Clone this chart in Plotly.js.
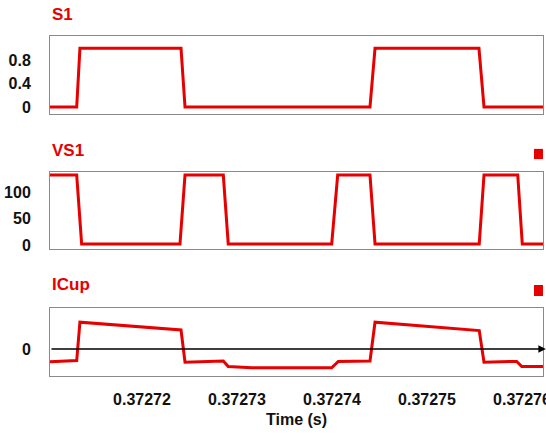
<!DOCTYPE html>
<html>
<head>
<meta charset="utf-8">
<script src="https://cdn.plot.ly/plotly-3.0.1.min.js"></script>
<style>html,body{margin:0;padding:0;background:#fff;overflow:hidden;}#chart{width:546px;height:437px;}</style>
</head>
<body>
<div id="chart"></div>
<script>
// time in microseconds after 0.3727 s
var s1Time = [10.32, 13.13, 13.47, 24.11, 24.53, 44.0, 44.53, 55.47, 56.0, 62.21];
var s1Vals = [0, 0, 1, 1, 0, 0, 1, 1, 0, 0];

var vs1Time = [10.32, 13.13, 13.65, 24.0, 24.53, 28.56, 29.08, 39.97, 40.6, 44.0, 44.53, 55.5, 56.0, 59.55, 60.03, 62.21];
var vs1Vals = [132, 132, 2, 2, 132, 132, 2, 2, 132, 132, 2, 2, 132, 132, 2, 2];

var icupTime = [10.32, 13.13, 13.47, 24.11, 24.53, 28.56, 29.08, 31.55, 39.97, 40.66, 44.0, 44.53, 55.5, 56.0, 59.44, 59.97, 62.21];
var icupVals = [-3.2, -2.9, 6.7, 4.75, -3.3, -3.0, -4.4, -4.7, -4.7, -3.1, -3.0, 6.7, 4.6, -3.3, -3.1, -4.4, -4.4];

var xTickVals = [0.37272, 0.37273, 0.37274, 0.37275, 0.37276];
var xTickText = ['0.37272', '0.37273', '0.37274', '0.37275', '0.37276'];
var panelTitles = ['S1', 'VS1', 'ICup'];

function toSec(arr) { return arr.map(function (u) { return 0.3727 + u * 1e-6; }); }

var xRange = [0.3727 + 10.32e-6, 0.3727 + 62.21e-6];
var red = '#e60000';
var lineStyle = {color: red, width: 3};
var tickFont = {family: 'Liberation Sans, Arial, sans-serif', size: 16, color: '#111', weight: 'bold'};

var traces = [
  {x: toSec(s1Time), y: s1Vals, xaxis: 'x', yaxis: 'y', mode: 'lines', line: lineStyle, showlegend: false, hoverinfo: 'skip'},
  {x: toSec(vs1Time), y: vs1Vals, xaxis: 'x2', yaxis: 'y2', mode: 'lines', line: lineStyle, showlegend: false, hoverinfo: 'skip'},
  {x: toSec(icupTime), y: icupVals, xaxis: 'x3', yaxis: 'y3', mode: 'lines', line: lineStyle, showlegend: false, hoverinfo: 'skip'}
];

function xAxis(anchor, showLabels) {
  return {
    anchor: anchor, range: xRange, showgrid: false, zeroline: false,
    showline: true, mirror: true, linecolor: '#8a8a8a', linewidth: 1,
    tickmode: 'array', tickvals: xTickVals, ticktext: xTickText,
    showticklabels: showLabels, ticks: showLabels ? 'outside' : '', ticklen: 9,
    tickcolor: 'rgba(0,0,0,0)', tickfont: tickFont, ticklabeloverflow: 'allow'
  };
}
function yAxis(anchor, domain, range, tickvals) {
  return {
    anchor: anchor, domain: domain, range: range, showgrid: false, zeroline: false,
    showline: true, mirror: true, linecolor: '#8a8a8a', linewidth: 1,
    tickmode: 'array', tickvals: tickvals, ticks: 'outside', ticklen: 15,
    tickcolor: 'rgba(0,0,0,0)', tickfont: tickFont
  };
}

var titleFont = {family: 'Liberation Sans, Arial, sans-serif', size: 17, color: red, weight: 'bold'};

var layout = {
  width: 546, height: 437,
  margin: {l: 50, r: 3, t: 36, b: 61},
  paper_bgcolor: '#fff', plot_bgcolor: '#fff',
  showlegend: false,
  xaxis: xAxis('y', false),
  xaxis2: xAxis('y2', false),
  xaxis3: Object.assign(xAxis('y3', true), {
    title: {text: 'Time (s)', font: {family: 'Liberation Sans, Arial, sans-serif', size: 16, color: '#111', weight: 'bold'}, standoff: 6}
  }),
  yaxis: yAxis('x', [0.7706, 1.0], [-0.12, 1.21], [0, 0.4, 0.8]),
  yaxis2: yAxis('x2', [0.3735, 0.6], [-7.5, 137.7], [0, 50, 100]),
  yaxis3: yAxis('x3', [0, 0.2], [-6.75, 10.25], [0]),
  annotations: [
    {xref: 'paper', yref: 'paper', x: 0, y: 1.0647, xanchor: 'left', yanchor: 'middle', text: panelTitles[0], showarrow: false, font: titleFont},
    {xref: 'paper', yref: 'paper', x: 0, y: 0.6618, xanchor: 'left', yanchor: 'middle', text: panelTitles[1], showarrow: false, font: titleFont},
    {xref: 'paper', yref: 'paper', x: 0, y: 0.268, xanchor: 'left', yanchor: 'middle', text: panelTitles[2], showarrow: false, font: titleFont},
    {xref: 'x3', yref: 'y3', axref: 'x3', ayref: 'y3', x: xRange[1] + 0.3e-6, y: 0, ax: xRange[0], ay: 0,
     text: '', showarrow: true, arrowhead: 2, arrowsize: 1, arrowwidth: 1.5, arrowcolor: '#000', standoff: 0, startstandoff: 0}
  ],
  shapes: [
    {type: 'rect', xref: 'paper', yref: 'paper', x0: 0.9817, x1: 1.0, y0: 0.638, y1: 0.668, fillcolor: red, line: {width: 0}},
    {type: 'rect', xref: 'paper', yref: 'paper', x0: 0.9817, x1: 1.0, y0: 0.2353, y1: 0.2676, fillcolor: red, line: {width: 0}}
  ]
};

Plotly.newPlot('chart', traces, layout, {displayModeBar: false, staticPlot: true});
</script>
</body>
</html>
